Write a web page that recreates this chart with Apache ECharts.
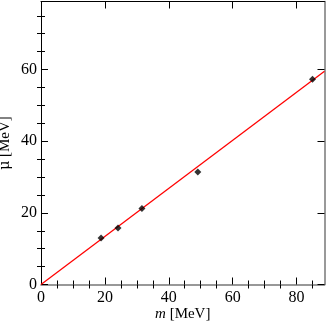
<!DOCTYPE html>
<html>
<head>
<meta charset="utf-8">
<script src="https://cdn.jsdelivr.net/npm/echarts@6/dist/echarts.min.js"></script>
<style>
  html, body { margin: 0; padding: 0; background: #fff; }
  #main { width: 327px; height: 326px; }
</style>
</head>
<body>
<div id="main"></div>
<script>
// data
const massX = [18.8, 24.1, 31.6, 49.1, 85.0]
const muY = [13.0, 15.8, 21.2, 31.4, 57.3]
const fitX = [0, 88.75]
const fitY = [0, 59.5]
const xMajor = [0, 20, 40, 60, 80]
const xMinor = [5, 10, 15, 25, 30, 35, 45, 50, 55, 65, 70, 75, 85]
const yMajor = [0, 20, 40, 60]
const yMinor = [5, 10, 15, 25, 30, 35, 45, 50, 55, 65, 70, 75]

const font = 'Liberation Serif'
const xMin = 0, xMax = 88.75, yMin = 0, yMax = 79

function xAxisOf (pos, ticks, len, opts) {
  return Object.assign({
    type: 'value', position: pos, min: xMin, max: xMax,
    axisLine: { show: false },
    splitLine: { show: false },
    axisLabel: { show: false },
    axisTick: { show: true, inside: true, length: len, customValues: ticks,
      lineStyle: { color: '#000', width: 1 } }
  }, opts || {})
}
function yAxisOf (pos, ticks, len, opts) {
  return Object.assign({
    type: 'value', position: pos, min: yMin, max: yMax,
    axisLine: { show: false },
    splitLine: { show: false },
    axisLabel: { show: false },
    axisTick: { show: true, inside: true, length: len, customValues: ticks,
      lineStyle: { color: '#000', width: 1 } }
  }, opts || {})
}

const chart = echarts.init(document.getElementById('main'))
chart.setOption({
  backgroundColor: '#fff',
  animation: false,
  textStyle: { fontFamily: font },
  grid: { left: 41, right: 2.5, top: 1.5, bottom: 41.5, outerBoundsMode: 'none', containLabel: false },
  xAxis: [
    xAxisOf('bottom', xMajor, 7, {
      axisLine: { show: true, onZero: false, lineStyle: { color: '#777', width: 1.5 } },
      axisLabel: { show: true, customValues: xMajor, margin: 5,
        fontFamily: font, fontSize: 16, color: '#000' },
      name: '{i|m} [MeV]',
      nameLocation: 'middle',
      nameGap: 22,
      nameMoveOverlap: false,
      nameTextStyle: { fontFamily: font, fontSize: 15, color: '#000',
        rich: { i: { fontFamily: font, fontSize: 15, fontStyle: 'italic', color: '#000' } } }
    }),
    xAxisOf('bottom', xMinor, 4),
    xAxisOf('top', xMajor, 7, {
      axisLine: { show: true, onZero: false, lineStyle: { color: '#000', width: 1 } }
    }),
    xAxisOf('top', xMinor, 4)
  ],
  yAxis: [
    yAxisOf('left', yMajor, 7, {
      axisLine: { show: true, onZero: false, lineStyle: { color: '#000', width: 1 } },
      axisLabel: { show: true, customValues: yMajor, margin: 4,
        fontFamily: font, fontSize: 16, color: '#000' },
      name: '{mu|μ\u0304} [MeV]',
      nameLocation: 'middle',
      nameGap: 28,
      nameMoveOverlap: false,
      nameTextStyle: { fontFamily: font, fontSize: 15, color: '#000',
        rich: { mu: { fontFamily: 'DejaVu Serif', fontSize: 14, color: '#000' } } }
    }),
    yAxisOf('left', yMinor, 4),
    yAxisOf('right', yMajor, 7, {
      axisLine: { show: true, onZero: false, lineStyle: { color: '#777', width: 1.5 } }
    }),
    yAxisOf('right', yMinor, 4)
  ],
  series: [
    {
      type: 'line',
      xAxisIndex: 0, yAxisIndex: 0,
      data: fitX.map((x, i) => [x, fitY[i]]),
      showSymbol: false,
      lineStyle: { color: '#ff0000', width: 1.3 },
      z: 2
    },
    {
      type: 'scatter',
      xAxisIndex: 0, yAxisIndex: 0,
      data: massX.map((x, i) => [x, muY[i]]),
      symbol: 'diamond',
      symbolSize: 7,
      itemStyle: { color: '#000' },
      z: 3
    }
  ]
})
</script>
</body>
</html>
